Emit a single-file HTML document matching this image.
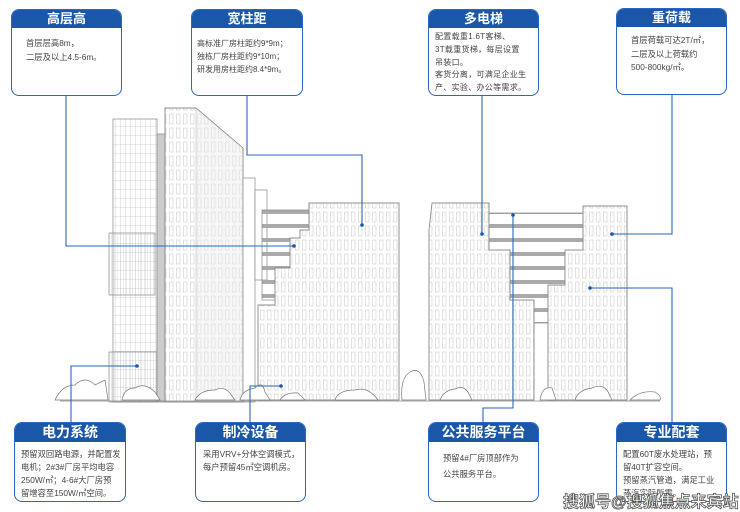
<!DOCTYPE html>
<html><head><meta charset="utf-8"><style>
*{margin:0;padding:0;box-sizing:border-box}
body{width:740px;height:512px;background:#fff;position:relative;overflow:hidden;font-family:"Liberation Sans","Noto Sans CJK SC",sans-serif}
.box{position:absolute;border:1.5px solid #2a66c2;border-radius:8px;background:#fff;overflow:hidden}
.box .h{background:#1a57a8;color:#fff;text-align:center;font-weight:bold;font-size:13px;height:18px;line-height:18px}
.box .b{font-size:8.3px;color:#444;line-height:13.5px;padding:8px 4px 0 14px;white-space:nowrap}
.bot .h{height:19px;line-height:19px;font-size:14px}
.bot .b{padding:6px 4px 0 6px;line-height:13px}
svg{position:absolute;left:0;top:0}
.wm{position:absolute;left:563px;top:488px;font-size:16px;font-weight:bold;color:#fff;-webkit-text-stroke:0.8px #555;white-space:nowrap}
</style></head><body>
<svg width="740" height="512" viewBox="0 0 740 512">
<defs>
<pattern id="win" width="7" height="14" patternUnits="userSpaceOnUse"><rect x="1.5" y="2" width="3.5" height="10" fill="none" stroke="#c4c4c4" stroke-width="0.5"/></pattern>
<pattern id="grid" width="5" height="9" patternUnits="userSpaceOnUse"><path d="M0 0V9M0 0H5" stroke="#aaa" stroke-width="0.5" fill="none"/></pattern>
<pattern id="vl" width="3" height="10" patternUnits="userSpaceOnUse"><path d="M0 0V10" stroke="#aaa" stroke-width="0.5"/></pattern>
<pattern id="stripe" width="10" height="14" patternUnits="userSpaceOnUse"><rect width="10" height="4" fill="#aaa"/></pattern>
</defs>
<g stroke="#888" stroke-width="0.7">
<rect x="113" y="119" width="44" height="283" fill="url(#grid)"/>
<rect x="109" y="233" width="46" height="62" fill="url(#vl)"/>
<rect x="109" y="352" width="48" height="50" fill="url(#vl)"/>
<rect x="157" y="134" width="8" height="268" fill="#ccc"/>
<polygon points="165,108 196,108 243,148 243,402 165,402" fill="#fff"/>
<polygon points="165,108 196,108 243,148 243,402 165,402" fill="url(#win)"/>
<polygon points="196,108 243,148 243,402 196,402" fill="#eee" opacity="0.5"/>
<rect x="243" y="178" width="12" height="224" fill="#fff"/>
<rect x="255" y="190" width="12" height="90" fill="#fff"/>
<rect x="262" y="210" width="48" height="90" fill="url(#stripe)"/>
<polygon points="309,203 399,203 399,400 258,400 258,305 275,305 275,268 290,268 290,238 300,238 300,230 309,230" fill="#fff"/>
<polygon points="309,203 399,203 399,400 258,400 258,305 275,305 275,268 290,268 290,238 300,238 300,230 309,230" fill="url(#win)"/>
<rect x="488" y="213" width="96" height="110" fill="url(#stripe)"/>
<polygon points="432,203 489,203 489,250 510,250 510,300 534,300 534,400 429,400 429,230" fill="#fff"/>
<polygon points="432,203 489,203 489,250 510,250 510,300 534,300 534,400 429,400 429,230" fill="url(#win)"/>
<polygon points="583,206 627,206 627,400 548,400 548,285 565,285 565,250 583,250" fill="#fff"/>
<polygon points="583,206 627,206 627,400 548,400 548,285 565,285 565,250 583,250" fill="url(#win)"/>
</g>
<g fill="#fff" stroke="#777" stroke-width="0.7">
<path d="M55 400 Q62 385 75 385 Q85 375 95 385 L105 380 L108 400Z"/>
<path d="M122 400 Q124 388 135 388 Q145 382 155 392 L160 400Z"/>
<path d="M195 400 Q200 390 215 390 Q225 385 232 396 L235 400Z"/>
<path d="M240 400 Q242 390 255 388 Q262 380 265 392 L270 400Z"/>
<path d="M280 400 Q285 392 298 393 L305 400Z"/>
<path d="M335 400 Q338 390 355 390 Q368 386 378 400Z"/>
<path d="M402 400 Q400 378 410 372 Q420 366 424 382 L426 400Z"/>
<path d="M440 400 Q444 390 455 389 Q465 384 470 396 L472 400Z"/>
<path d="M540 400 Q542 386 552 388 L556 400Z"/>
<path d="M575 400 Q578 390 592 388 Q605 382 610 396 L612 400Z"/>
<path d="M630 400 Q640 390 655 392 Q662 396 660 400Z"/>
</g>
<line x1="60" y1="401" x2="660" y2="401" stroke="#888" stroke-width="0.7"/>
<g stroke="#2a66c2" stroke-width="1.1" fill="none">
<path d="M66 96V246H294"/>
<path d="M247 96V155H362V225"/>
<path d="M482 96V234"/>
<path d="M672 95V234H612"/>
<path d="M71 422V366H137"/>
<path d="M250 422V386H281"/>
<path d="M483 422V408H513V215"/>
<path d="M672 422V288H590"/>
</g>
<g fill="#1a57a8">
<circle cx="294" cy="246" r="1.8"/><circle cx="362" cy="225" r="1.8"/><circle cx="482" cy="234" r="1.8"/><circle cx="612" cy="234" r="1.8"/>
<circle cx="137" cy="366" r="1.8"/><circle cx="281" cy="386" r="1.8"/><circle cx="513" cy="215" r="1.8"/><circle cx="590" cy="288" r="1.8"/>
</g>
</svg>

<div class="box" style="left:11px;top:9px;width:111px;height:87px"><div class="h">高层高</div><div class="b" style="padding-top:9px">首层层高8m，<br>二层及以上4.5-6m。</div></div>
<div class="box" style="left:191px;top:9px;width:112px;height:87px"><div class="h">宽柱距</div><div class="b" style="padding:9px 2px 0 5px;font-size:8px;line-height:13px">高标准厂房柱距约9*9m；<br>独栋厂房柱距约9*10m；<br>研发用房柱距约8.4*9m。</div></div>
<div class="box" style="left:428px;top:9px;width:111px;height:87px"><div class="h">多电梯</div><div class="b" style="padding:3px 2px 0 6px;letter-spacing:0.3px;font-size:8px;line-height:12.8px">配置载重1.6T客梯、<br>3T载重货梯，每层设置<br>吊装口。<br>客货分离，可满足企业生<br>产、实验、办公等需求。</div></div>
<div class="box" style="left:616px;top:8px;width:111px;height:87px"><div class="h">重荷载</div><div class="b" style="padding-top:7px">首层荷载可达2T/㎡，<br>二层及以上荷载约<br>500-800kg/㎡。</div></div>

<div class="box bot" style="left:14px;top:422px;width:112px;height:80px"><div class="h">电力系统</div><div class="b">预留双回路电源，并配置发<br>电机；2#3#厂房平均电容<br>250W/㎡；4-6#大厂房预<br>留增容至150W/㎡空间。</div></div>
<div class="box bot" style="left:195px;top:422px;width:111px;height:80px"><div class="h">制冷设备</div><div class="b" style="padding-left:7px">采用VRV+分体空调模式，<br>每户预留45㎡空调机房。</div></div>
<div class="box bot" style="left:428px;top:422px;width:111px;height:80px"><div class="h">公共服务平台</div><div class="b" style="padding:8px 0 0 14px;line-height:16px">预留4#厂房顶部作为<br>公共服务平台。</div></div>
<div class="box bot" style="left:616px;top:422px;width:111px;height:80px"><div class="h">专业配套</div><div class="b">配置60T废水处理站，预<br>留40T扩容空间。<br>预留蒸汽管道，满足工业<br>蒸汽实际所需。</div></div>
<div class="wm">搜狐号@搜狐焦点来宾站</div>
</body></html>
